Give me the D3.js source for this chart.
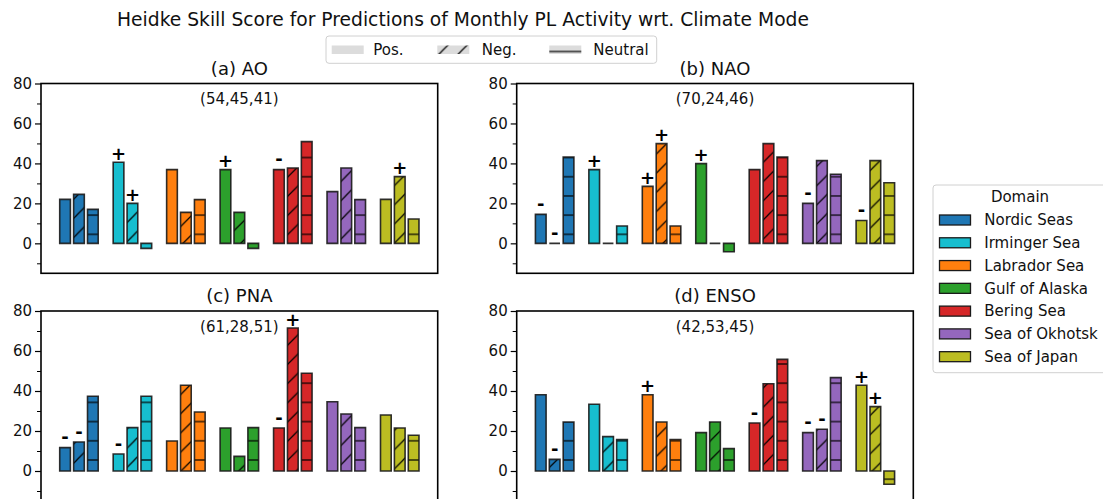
<!DOCTYPE html>
<html>
<head>
<meta charset="utf-8">
<script src="https://cdn.jsdelivr.net/npm/d3@7"></script>
<style>
  body { margin: 0; background: #fff; }
  svg { font-family: "DejaVu Sans", sans-serif; }
</style>
</head>
<body>
<div id="chart"></div>
<script>
/* DATA */
const domains = ["Nordic Seas", "Irminger Sea", "Labrador Sea", "Gulf of Alaska", "Bering Sea", "Sea of Okhotsk", "Sea of Japan"];
const colors = ["#1f77b4", "#17becf", "#ff7f0e", "#2ca02c", "#d62728", "#9467bd", "#bcbd22"];
const panelTitles = ["(a) AO", "(b) NAO", "(c) PNA", "(d) ENSO"];
const panelCounts = ["(54,45,41)", "(70,24,46)", "(61,28,51)", "(42,53,45)"];
const yTicks = [0, 20, 40, 60, 80];
const yMinorTicks = [-10, 10, 30, 50, 70];

// AO
const aoPos = [22.0, 40.6, 36.9, 36.9, 36.9, 25.9, 22.0];
const aoNeg = [24.5, 20.0, 15.5, 15.5, 37.7, 37.7, 33.4];
const aoNeu = [17.0, -2.5, 21.9, -2.5, 50.9, 21.9, 12.2];
const aoPosSig = ["", "+", "", "+", "-", "", ""];
const aoNegSig = ["", "+", "", "", "", "", "+"];
// NAO
const naoPos = [14.5, 36.9, 28.5, 39.9, 36.9, 20.0, 11.4];
const naoNeg = [0, 0, 49.9, 0, 49.9, 41.4, 41.4];
const naoNeu = [43.2, 8.7, 8.7, -4.2, 43.2, 34.6, 30.3];
const naoPosSig = ["-", "+", "+", "+", "", "-", "-"];
const naoNegSig = ["-", "", "+", "", "", "", ""];
// PNA
const pnaPos = [11.7, 8.5, 15.0, 21.5, 21.5, 34.6, 28.0];
const pnaNeg = [14.5, 21.7, 42.9, 7.3, 71.5, 28.5, 21.5];
const pnaNeu = [37.4, 37.4, 29.5, 21.7, 48.9, 21.7, 17.9];
const pnaPosSig = ["-", "-", "", "", "-", "", ""];
const pnaNegSig = ["-", "", "", "", "+", "", ""];
// ENSO
const ensoPos = [38.1, 33.4, 38.1, 19.2, 24.0, 19.2, 42.9];
const ensoNeg = [5.8, 17.2, 24.5, 24.5, 43.6, 20.9, 32.2];
const ensoNeu = [24.5, 15.7, 15.7, 11.2, 55.8, 46.7, -6.6];
const ensoPosSig = ["", "", "+", "", "-", "-", "+"];
const ensoNegSig = ["-", "", "", "", "", "-", "+"];

const panelData = [
  [aoPos, aoNeg, aoNeu, aoPosSig, aoNegSig],
  [naoPos, naoNeg, naoNeu, naoPosSig, naoNegSig],
  [pnaPos, pnaNeg, pnaNeu, pnaPosSig, pnaNegSig],
  [ensoPos, ensoNeg, ensoNeu, ensoPosSig, ensoNegSig]
];

/* LAYOUT */
const width = 1103, height = 499;
const panelBoxes = [
  {x0: 41, x1: 437.7, y0: 83.5, y1: 273.3},
  {x0: 516.7, x1: 913.3, y0: 83.5, y1: 273.3},
  {x0: 41, x1: 437.7, y0: 311, y1: 501},
  {x0: 516.7, x1: 913.3, y0: 311, y1: 501}
];
const hatchStep = 19.2;
const offsets = [-0.26, 0, 0.26];
const barW = 0.2;

const svg = d3.select("#chart").append("svg")
  .attr("width", width).attr("height", height);
const defs = svg.append("defs");

function makePatterns(id, phaseY) {
  const neg = defs.append("pattern").attr("id", "neg-" + id)
    .attr("patternUnits", "userSpaceOnUse")
    .attr("width", hatchStep).attr("height", hatchStep)
    .attr("y", phaseY);
  neg.append("path")
    .attr("d", `M-4.8,4.8L4.8,-4.8M0,${hatchStep}L${hatchStep},0M${hatchStep - 4.8},${hatchStep + 4.8}L${hatchStep + 4.8},${hatchStep - 4.8}`)
    .attr("stroke", "#000").attr("stroke-width", 1.2);
  const neu = defs.append("pattern").attr("id", "neu-" + id)
    .attr("patternUnits", "userSpaceOnUse")
    .attr("width", hatchStep).attr("height", hatchStep)
    .attr("y", phaseY - hatchStep / 2);
  neu.append("line")
    .attr("x1", 0).attr("x2", hatchStep)
    .attr("y1", hatchStep / 2).attr("y2", hatchStep / 2)
    .attr("stroke", "#000").attr("stroke-width", 1.2);
}

function barPath(x, w, y0, y1) {
  const top = Math.min(y0, y1), h = Math.abs(y1 - y0);
  return `M${x},${top}h${w}v${h}h${-w}Z`;
}

/* PANELS */
panelData.forEach((pd, p) => {
  const box = panelBoxes[p];
  const x = d3.scaleLinear().domain([-0.71, 6.71]).range([box.x0, box.x1]);
  const y = d3.scaleLinear().domain([-15, 80]).range([box.y1, box.y0]);
  makePatterns(p, y(p < 2 ? 4.5 : 5.5));

  const g = svg.append("g");
  const clipId = "clip-" + p;
  defs.append("clipPath").attr("id", clipId).append("rect")
    .attr("x", box.x0).attr("y", box.y0)
    .attr("width", box.x1 - box.x0).attr("height", box.y1 - box.y0);

  const bars = [];
  domains.forEach((d, i) => {
    [0, 1, 2].forEach(k => {
      bars.push({i, k, v: pd[k][i], sig: k < 2 ? pd[k + 3][i] : ""});
    });
  });

  const plot = g.append("g").attr("clip-path", `url(#${clipId})`);
  const bx = b => x(b.i + offsets[b.k] - barW / 2);
  const bw = x(barW) - x(0);

  plot.selectAll("path.fill").data(bars).join("path").attr("class", "fill")
    .attr("d", b => barPath(bx(b), bw, y(0), y(b.v)))
    .attr("fill", b => colors[b.i]);
  plot.selectAll("path.hatch").data(bars.filter(b => b.k > 0)).join("path").attr("class", "hatch")
    .attr("d", b => barPath(bx(b), bw, y(0), y(b.v)))
    .attr("fill", b => b.k === 1 ? `url(#neg-${p})` : `url(#neu-${p})`);
  plot.selectAll("path.edge").data(bars).join("path").attr("class", "edge")
    .attr("d", b => barPath(bx(b), bw, y(0), y(b.v)))
    .attr("fill", "none").attr("stroke", "#1a1a1a").attr("stroke-width", 1.6)
    .attr("stroke-opacity", 0.9);

  g.selectAll("text.sig").data(bars.filter(b => b.sig)).join("text").attr("class", "sig")
    .attr("x", b => bx(b) + bw / 2)
    .attr("y", b => y(Math.max(b.v, 0)) - (b.sig === "+" ? 2.4 : 4.3))
    .attr("text-anchor", "middle")
    .attr("font-size", 18).attr("font-weight", "bold")
    .text(b => b.sig);

  // frame
  g.append("rect")
    .attr("x", box.x0).attr("y", box.y0)
    .attr("width", box.x1 - box.x0).attr("height", box.y1 - box.y0)
    .attr("fill", "none").attr("stroke", "#000").attr("stroke-width", 1.6);

  // y axis
  const ax = g.append("g").attr("transform", `translate(${box.x0},0)`)
    .call(d3.axisLeft(y).tickValues(yTicks).tickSize(6).tickPadding(3));
  ax.select(".domain").remove();
  ax.selectAll("text").attr("font-size", 15).attr("fill", "#111").attr("font-family", "DejaVu Sans");
  ax.selectAll("line").attr("stroke", "#000").attr("stroke-width", 1.2);
  g.append("g").attr("transform", `translate(${box.x0},0)`)
    .call(d3.axisLeft(y).tickValues(yMinorTicks).tickSize(4).tickFormat(""))
    .call(a => a.select(".domain").remove())
    .selectAll("line").attr("stroke", "#000").attr("stroke-width", 1);

  // titles
  g.append("text")
    .attr("x", (box.x0 + box.x1) / 2).attr("y", box.y0 - 9)
    .attr("text-anchor", "middle").attr("font-size", 18).attr("fill", "#111")
    .text(panelTitles[p]);
  g.append("text")
    .attr("x", (box.x0 + box.x1) / 2).attr("y", box.y0 + 20.5)
    .attr("text-anchor", "middle").attr("font-size", 15).attr("fill", "#111")
    .text(panelCounts[p]);
});

/* SUPTITLE */
svg.append("text")
  .attr("x", 463).attr("y", 25.5)
  .attr("text-anchor", "middle").attr("font-size", 18.7).attr("fill", "#111")
  .text("Heidke Skill Score for Predictions of Monthly PL Activity wrt. Climate Mode");

/* TOP LEGEND */
makePatterns("lg", 51.5);
const lg = svg.append("g");
lg.append("rect").attr("x", 326).attr("y", 36).attr("width", 330.7).attr("height", 27.3)
  .attr("rx", 3).attr("fill", "#fff").attr("stroke", "#d0d0d0").attr("stroke-width", 1);
const typeItems = [
  {label: "Pos.", px: 331.7, tx: 373.3, pat: null},
  {label: "Neg.", px: 437.3, tx: 481.7, pat: "neg-lg"},
  {label: "Neutral", px: 549.3, tx: 593.3, pat: "neu-lg"}
];
typeItems.forEach(it => {
  lg.append("rect").attr("x", it.px).attr("y", 45.5).attr("width", 32).attr("height", 8.5)
    .attr("fill", "#dcdcdc");
  if (it.pat) lg.append("rect").attr("x", it.px).attr("y", 45.5).attr("width", 32).attr("height", 8.5)
    .attr("fill", `url(#${it.pat})`);
  lg.append("text").attr("x", it.tx).attr("y", 55).attr("font-size", 15).attr("fill", "#111")
    .text(it.label);
});

/* DOMAIN LEGEND */
const dl = svg.append("g");
dl.append("rect").attr("x", 933).attr("y", 185).attr("width", 180).attr("height", 187.7)
  .attr("rx", 3).attr("fill", "#fff").attr("stroke", "#d0d0d0").attr("stroke-width", 1);
dl.append("text").attr("x", 1020).attr("y", 202).attr("text-anchor", "middle")
  .attr("font-size", 15).attr("fill", "#111").text("Domain");
domains.forEach((d, i) => {
  const cy = 220 + 22.78 * i;
  dl.append("rect").attr("x", 939.5).attr("y", cy - 5).attr("width", 31).attr("height", 10)
    .attr("fill", colors[i]).attr("stroke", "#1a1a1a").attr("stroke-width", 1.3);
  dl.append("text").attr("x", 984.3).attr("y", cy + 5.3).attr("font-size", 15).attr("fill", "#111")
    .text(d);
});
</script>
</body>
</html>
